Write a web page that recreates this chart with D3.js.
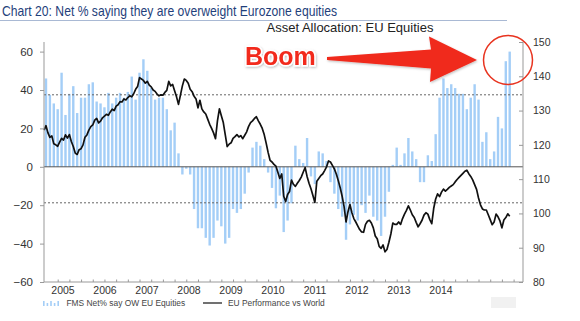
<!DOCTYPE html>
<html>
<head>
<meta charset="utf-8">
<script src="https://cdn.jsdelivr.net/npm/d3@7"></script>
<style>
  body { margin: 0; background: #fff; }
  svg { display: block; }
  text { font-family: "Liberation Sans", Arial, sans-serif; }
</style>
</head>
<body>
<svg id="chart" width="580" height="321"></svg>
<script>
// FMS net % overweight EU equities, monthly from Jul 2004 to Jun 2014
const fmsNet = [
  46, 37.5, 33, 30, 49, 27, 38, 42, 28, 36, 36, 43, 44, 34, 33, 31, 38.5, 33, 36, 38.5,
  36, 39, 47, 35, 49, 56, 50, 41, 35, 36, 36, 30, 19, 23, 7, -4, -1, -4, -22, -32,
  -32, -37, -41, -37, -28, -31, -40, -37, -22, -24, -22, -14, -3, 10, 13, 11, 4, -3, -11, -21.6,
  -15, -34, -28, -19, 11, 4, 2, 15, -5, -9, 8, 7, 3, -8, -14, -22, -26, -38, -30, -25,
  -28, -20, -24, -15, -26, -28, -36, -26, -13, 1, 10, 1, 7, 15, 8, 4, -8, -8, 6, 3,
  17, 36, 46, 41, 43, 41, 38, 38, 30, 36, 43, 35, 13, 18, 4, 8, 26, 20, 55, 60
];

// EU performance vs world, twice a month, starting mid-Jun 2004
const euVsWorld = [
  124.3, 125.6, 123.5, 122.2, 122.6, 120.3, 120.0, 119.6, 120.8, 121.9,
  121.4, 122.9, 122.0, 123.0, 121.0, 119.5, 117.6, 117.2, 118.6, 118.9,
  120.0, 122.2, 122.9, 124.3, 125.3, 125.8, 127.2, 127.7, 126.4, 126.9,
  127.9, 128.4, 128.9, 128.6, 129.6, 130.4, 130.0, 131.3, 131.7, 132.6,
  132.5, 133.4, 133.1, 133.8, 134.3, 134.0, 134.9, 136.2, 137.0, 139.6,
  139.2, 138.8, 138.0, 138.5, 137.4, 136.9, 136.0, 135.6, 134.8, 134.3,
  134.6, 134.5, 135.3, 135.9, 138.5, 137.2, 137.6, 135.8, 134.0, 131.8,
  134.5, 137.2, 139.2, 138.8, 138.0, 136.2, 135.5, 134.2, 133.4, 130.8,
  133.0, 130.5, 129.6, 129.0, 127.5, 126.0, 124.8, 123.5, 121.8, 127.0,
  130.5, 128.5, 126.5, 123.0, 119.5, 120.2, 120.6, 121.9, 122.4, 123.0,
  122.3, 122.7, 121.8, 122.8, 123.8, 125.4, 126.5, 127.0, 127.7, 128.2,
  127.0, 126.0, 124.8, 123.0, 120.5, 117.8, 115.5, 115.0, 114.3, 113.8,
  112.0, 110.2, 111.5, 105.0, 103.5, 105.5, 106.4, 109.7, 108.5, 107.9,
  108.8, 109.6, 110.6, 112.0, 113.4, 110.8, 108.8, 107.2, 105.2, 103.2,
  109.4, 110.2, 111.0, 111.5, 112.5, 113.6, 115.3, 115.0, 114.0, 113.0,
  111.5, 109.6, 107.5, 105.0, 102.0, 97.5, 100.5, 102.6, 100.2, 98.5,
  97.5, 96.4, 95.3, 94.6, 94.5, 96.8, 97.7, 98.0, 97.2, 95.8,
  93.4, 92.6, 90.4, 89.8, 90.8, 88.8, 89.5, 91.6, 94.0, 97.2,
  96.8, 96.8, 97.5, 96.8, 98.5, 99.8, 100.9, 102.2, 101.0, 99.6,
  98.8, 97.4, 96.1, 97.0, 98.0, 99.5, 100.2, 99.8, 98.2, 97.0,
  101.5, 104.2, 105.7, 104.9, 106.2, 107.1, 106.5, 107.0, 107.6, 108.0,
  108.4, 109.2, 109.9, 110.5, 111.1, 111.7, 112.3, 112.6, 111.6, 110.8,
  109.8, 108.4, 107.0, 104.5, 102.5, 101.3, 101.0, 101.0, 99.6, 98.2,
  96.7, 97.5, 99.8, 99.0, 97.8, 95.8, 98.1, 98.8, 99.9, 99.2
];

const yearLabels = [2005, 2006, 2007, 2008, 2009, 2010, 2011, 2012, 2013, 2014];
const leftTicks = [60, 40, 20, 0, -20, -40, -60];
const rightTicks = [150, 140, 130, 120, 110, 100, 90, 80];
// mean +/- one standard deviation of the survey series
const bandLevels = [37.5, -18.75];

const svg = d3.select("#chart");
const frame = { left: 44, right: 523, top: 42, bottom: 282 };

// month index 0 = Jul 2004
const x = d3.scaleLinear().domain([0, fmsNet.length - 1]).range([46, 509.7]);
const yL = d3.scaleLinear().domain([-60, 65]).range([frame.bottom, frame.top]);
const yR = d3.scaleLinear().domain([80, 150]).range([frame.bottom, frame.top]);
const yearScale = d3.scaleBand().domain(yearLabels).range([42, 462]);

// title block
svg.append("text")
  .attr("x", 2).attr("y", 16)
  .attr("textLength", 335).attr("lengthAdjust", "spacingAndGlyphs")
  .style("font-family", '"Liberation Sans Narrow", "Liberation Sans", Arial, sans-serif')
  .style("font-size", "15px")
  .attr("fill", "#1f3f7b")
  .text("Chart 20: Net % saying they are overweight Eurozone equities");
svg.append("line")
  .attr("x1", 0).attr("x2", 507).attr("y1", 20.5).attr("y2", 20.5)
  .attr("stroke", "#a9b9d4").attr("stroke-width", 1);
svg.append("text")
  .attr("x", 350).attr("y", 32)
  .attr("text-anchor", "middle")
  .style("font-size", "13px")
  .attr("fill", "#222")
  .text("Asset Allocation: EU Equities");

// bars
svg.append("g")
  .selectAll("rect")
  .data(fmsNet)
  .join("rect")
  .attr("x", (d, i) => x(i) - 1.2)
  .attr("width", 2.4)
  .attr("y", d => yL(Math.max(0, d)))
  .attr("height", d => Math.abs(yL(d) - yL(0)))
  .attr("fill", "#a4cef7");

// dotted +/- 1 sd lines
svg.append("g")
  .selectAll("line")
  .data(bandLevels)
  .join("line")
  .attr("x1", frame.left).attr("x2", frame.right)
  .attr("y1", d => yL(d)).attr("y2", d => yL(d))
  .attr("stroke", "#666").attr("stroke-width", 1)
  .attr("stroke-dasharray", "2,2");

// zero line
svg.append("line")
  .attr("x1", frame.left).attr("x2", frame.right)
  .attr("y1", yL(0)).attr("y2", yL(0))
  .attr("stroke", "#555").attr("stroke-width", 1);

// relative performance line
const line = d3.line()
  .x((d, k) => x(-0.5 + 0.5 * k))
  .y(d => yR(d));
svg.append("path")
  .datum(euVsWorld)
  .attr("d", line)
  .attr("fill", "none")
  .attr("stroke", "#111")
  .attr("stroke-width", 1.7)
  .attr("stroke-linejoin", "round");

// left axis
const axisColor = "#999";
const gL = svg.append("g").attr("transform", `translate(${frame.left},0)`);
gL.call(d3.axisLeft(yL).tickValues(d3.range(-60, 65, 4)).tickSize(2).tickFormat(""));
gL.call(d3.axisLeft(yL).tickValues(leftTicks).tickSize(4).tickPadding(7));
gL.select(".domain").remove();
gL.selectAll("line").attr("stroke", axisColor);
gL.selectAll("text").style("font-size", "11.5px").attr("fill", "#333");
svg.append("line")
  .attr("x1", frame.left).attr("x2", frame.left)
  .attr("y1", frame.top).attr("y2", frame.bottom)
  .attr("stroke", axisColor);

// right axis
const gR = svg.append("g").attr("transform", `translate(${frame.right},0)`);
gR.call(d3.axisRight(yR).tickValues(d3.range(80, 151, 2)).tickSize(-2).tickFormat(""));
gR.call(d3.axisRight(yR).tickValues(rightTicks).tickSize(-4).tickPadding(10));
gR.select(".domain").remove();
gR.selectAll("line").attr("stroke", axisColor);
gR.selectAll("text").style("font-size", "10.5px").attr("fill", "#333");
svg.append("line")
  .attr("x1", frame.right).attr("x2", frame.right)
  .attr("y1", frame.top).attr("y2", frame.bottom)
  .attr("stroke", axisColor);

// bottom axis: quarterly ticks, year labels below
const gB = svg.append("g").attr("transform", `translate(0,${frame.bottom})`);
gB.call(d3.axisBottom(x).tickValues(d3.range(3, 121, 3)).tickSize(-2.5).tickFormat(""));
gB.select(".domain").remove();
gB.selectAll("line").attr("stroke", axisColor);
svg.append("line")
  .attr("x1", frame.left).attr("x2", frame.right)
  .attr("y1", frame.bottom).attr("y2", frame.bottom)
  .attr("stroke", axisColor);
svg.append("g")
  .selectAll("text")
  .data(yearLabels)
  .join("text")
  .attr("x", d => yearScale(d) + yearScale.bandwidth() / 2)
  .attr("y", 294)
  .attr("text-anchor", "middle")
  .style("font-size", "10.5px")
  .attr("fill", "#333")
  .text(d => d);

// legend
const legend = svg.append("g").attr("transform", "translate(0,306)");
legend.selectAll("rect")
  .data([5, 3, 5, 3, 5])
  .join("rect")
  .attr("x", (d, i) => 43 + i * 3.6)
  .attr("y", d => -d)
  .attr("width", 1.6)
  .attr("height", d => d)
  .attr("fill", "#a4cef7");
legend.append("text")
  .attr("x", 66.5).attr("y", 0)
  .style("font-size", "8.4px").attr("fill", "#444")
  .text("FMS Net% say OW EU Equities");
legend.append("line")
  .attr("x1", 203).attr("x2", 222).attr("y1", -3).attr("y2", -3)
  .attr("stroke", "#111").attr("stroke-width", 1.2);
legend.append("text")
  .attr("x", 228).attr("y", 0)
  .style("font-size", "8.4px").attr("fill", "#444")
  .text("EU Performance vs World");

// faint source mark, bottom right
svg.append("rect")
  .attr("x", 491).attr("y", 297).attr("width", 25).attr("height", 11)
  .attr("fill", "#f1f1f1");

// "Boom" callout
const defs = svg.append("defs");
const shadow = defs.append("filter").attr("id", "soft").attr("x", "-20%").attr("y", "-40%")
  .attr("width", "140%").attr("height", "180%");
shadow.append("feDropShadow")
  .attr("dx", 0.8).attr("dy", 1.2).attr("stdDeviation", 1)
  .attr("flood-color", "#000").attr("flood-opacity", 0.25);

svg.append("path")
  .attr("d", "M327,57 L431,49.5 L429,36.5 L477,60 L430,82 L431,68.5 L327,60 Z")
  .attr("fill", "#f0291b")
  .attr("filter", "url(#soft)");

svg.append("text")
  .attr("x", 245).attr("y", 65)
  .style("font-size", "25px").style("font-weight", "bold")
  .attr("fill", "#f22a1c")
  .attr("stroke", "#fff").attr("stroke-width", 3)
  .attr("paint-order", "stroke")
  .attr("filter", "url(#soft)")
  .text("Boom");

svg.append("circle")
  .attr("cx", 508).attr("cy", 60).attr("r", 24.5)
  .attr("fill", "none")
  .attr("stroke", "#e8331f").attr("stroke-width", 1.5);
</script>
</body>
</html>
